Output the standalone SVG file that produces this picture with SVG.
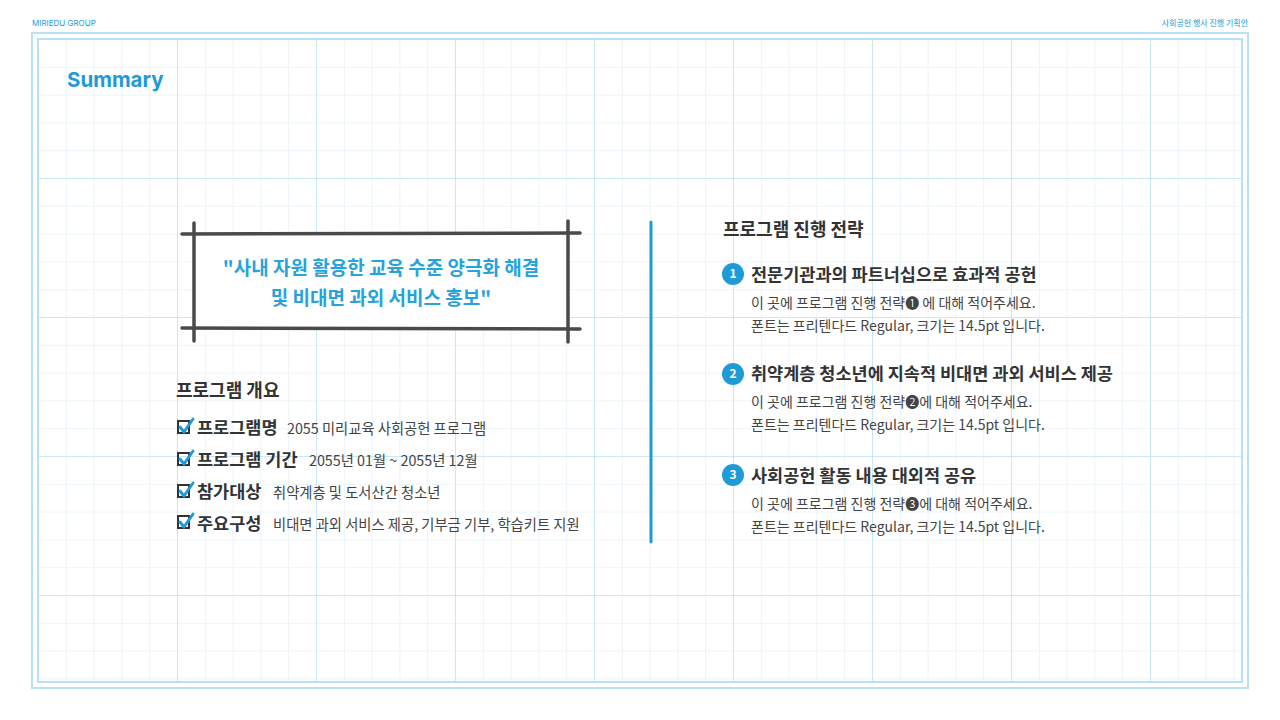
<svg xmlns="http://www.w3.org/2000/svg" width="1280" height="720" viewBox="0 0 1280 720">
<defs>
<pattern id="minor" x="38" y="39" width="27.8" height="27.8" patternUnits="userSpaceOnUse">
<path d="M0 0V27.8M0 0H27.8" fill="none" stroke="#deedf7" stroke-width="1.2"/>
</pattern>
<pattern id="major" x="38" y="39" width="139" height="139" patternUnits="userSpaceOnUse">
<path d="M0 0V139M0 0H139" fill="none" stroke="#bfe3f5" stroke-width="1.5"/>
</pattern>
</defs>
<style>
text{font-family:"Noto Sans CJK KR","Noto Sans",sans-serif}
.h{font-size:18px;font-weight:700;fill:#333}
.s{font-size:17.5px;font-weight:700;fill:#333}
.b{font-size:14px;fill:#444}
.it{font-size:17.5px;font-weight:700;fill:#333}
.d{font-size:14.3px;fill:#444}
.num{font-size:12px;font-weight:700;fill:#fff;text-anchor:middle}
</style>
<rect width="1280" height="720" fill="#fff"/>
<rect x="38" y="39" width="1204" height="643" fill="url(#minor)"/>
<rect x="38" y="39" width="1204" height="643" fill="url(#major)"/>
<rect x="32" y="33" width="1216" height="655" fill="none" stroke="#b9e0f4" stroke-width="2"/>
<rect x="38" y="39" width="1204" height="643" fill="none" stroke="#b9e0f4" stroke-width="2"/>
<text x="32" y="26" style="font-family:'Inter','Liberation Sans',sans-serif;font-size:8px;fill:#1e9bd7">MIRIEDU GROUP</text>
<text x="1248" y="26" text-anchor="end" style="font-size:8px;fill:#1e9bd7">사회공헌 행사 진행 기획안</text>
<text x="67" y="87" style="font-family:'Inter','Liberation Sans',sans-serif;font-size:20.5px;font-weight:700;fill:#1e9bd7">Summary</text>

<g id="quote-box" stroke="#4a4a4a" stroke-width="3.5" stroke-linecap="round">
<rect x="194" y="233" width="374" height="96" fill="#fff" stroke="none"/>
<line x1="182" y1="234" x2="580" y2="233"/>
<line x1="182" y1="328" x2="580" y2="329"/>
<line x1="194" y1="223" x2="194" y2="341"/>
<line x1="568" y1="221" x2="568" y2="342"/>
<text x="381" y="275" text-anchor="middle" stroke="none" style="font-size:19px;font-weight:700;fill:#26a3dc">"사내 자원 활용한 교육 수준 양극화 해결</text>
<text x="381" y="305" text-anchor="middle" stroke="none" style="font-size:19px;font-weight:700;fill:#26a3dc">및 비대면 과외 서비스 홍보"</text>
</g>

<g id="overview">
<text x="176" y="397" class="h">프로그램 개요</text>
<g fill="none" stroke="#333" stroke-width="2">
<rect x="178" y="421" width="11" height="12"/><rect x="178" y="453" width="11" height="12"/><rect x="178" y="485" width="11" height="12"/><rect x="178" y="516" width="11" height="12"/>
</g>
<g fill="none" stroke="#1e9bd7" stroke-width="3" stroke-linecap="round" stroke-linejoin="round">
<path d="M180 427l4 5 9-13"/><path d="M180 459l4 5 9-13"/><path d="M180 491l4 5 9-13"/><path d="M180 522l4 5 9-13"/>
</g>
<text x="197" y="434" class="it">프로그램명</text><text x="287" y="434" class="d">2055 미리교육 사회공헌 프로그램</text>
<text x="197" y="466" class="it">프로그램 기간</text><text x="309" y="466" class="d">2055년 01월 ~ 2055년 12월</text>
<text x="197" y="498" class="it">참가대상</text><text x="273" y="498" class="d">취약계층 및 도서산간 청소년</text>
<text x="197" y="530" class="it">주요구성</text><text x="273" y="530" class="d">비대면 과외 서비스 제공, 기부금 기부, 학습키트 지원</text>
</g>

<g id="connectors">
<line x1="651" y1="222" x2="651" y2="542" stroke="#1e9bd7" stroke-width="3" stroke-linecap="round"/>
</g>

<g id="strategy">
<text x="723" y="236" class="h">프로그램 진행 전략</text>
<circle cx="733" cy="274" r="11" fill="#1e9bd7"/><text x="733" y="278" class="num">1</text>
<text x="751" y="281" class="s">전문기관과의 파트너십으로 효과적 공헌</text>
<text x="751" y="308" class="b">이 곳에 프로그램 진행 전략❶ 에 대해 적어주세요.</text>
<text x="751" y="331" class="b">폰트는 프리텐다드 Regular, 크기는 14.5pt 입니다.</text>
<circle cx="733" cy="374" r="11" fill="#1e9bd7"/><text x="733" y="378" class="num">2</text>
<text x="751" y="380" class="s">취약계층 청소년에 지속적 비대면 과외 서비스 제공</text>
<text x="751" y="407" class="b">이 곳에 프로그램 진행 전략❷에 대해 적어주세요.</text>
<text x="751" y="430" class="b">폰트는 프리텐다드 Regular, 크기는 14.5pt 입니다.</text>
<circle cx="733" cy="475" r="11" fill="#1e9bd7"/><text x="733" y="479" class="num">3</text>
<text x="751" y="482" class="s">사회공헌 활동 내용 대외적 공유</text>
<text x="751" y="509" class="b">이 곳에 프로그램 진행 전략❸에 대해 적어주세요.</text>
<text x="751" y="532" class="b">폰트는 프리텐다드 Regular, 크기는 14.5pt 입니다.</text>
</g>
</svg>
